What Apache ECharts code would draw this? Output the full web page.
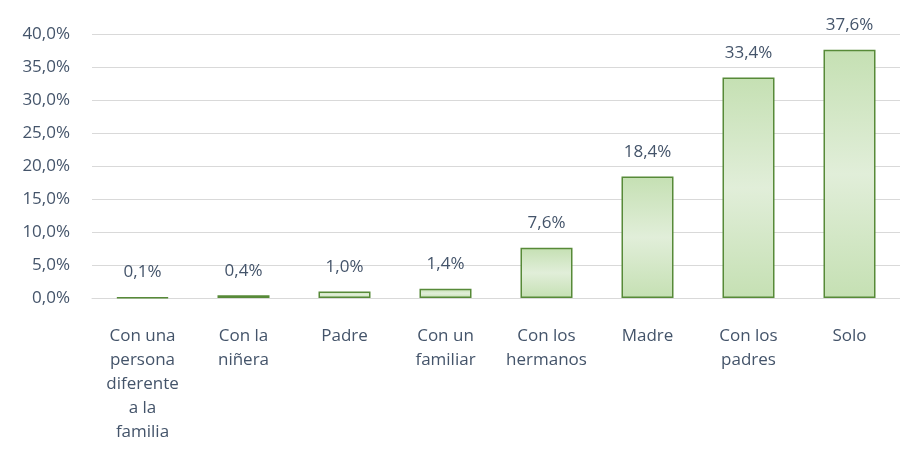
<!DOCTYPE html>
<html>
<head>
<meta charset="utf-8">
<script src="https://cdn.jsdelivr.net/npm/echarts@6/dist/echarts.min.js"></script>
<style>
html, body { margin: 0; padding: 0; background: #fff; }
#chart { width: 900px; height: 457px; }
</style>
</head>
<body>
<div id="chart"></div>
<script>
// datos del grafico
var categorias = ['Con una\npersona\ndiferente\na la\nfamilia', 'Con la\nniñera', 'Padre', 'Con un\nfamiliar', 'Con los\nhermanos', 'Madre', 'Con los\npadres', 'Solo'];
var valores = [0.1, 0.4, 1.0, 1.4, 7.6, 18.4, 33.4, 37.6];
var ticksY = [0, 5, 10, 15, 20, 25, 30, 35, 40];

var colorTexto = '#44546a';
var fuente = '"Open Sans", sans-serif';

function pct(v) {
	return v.toFixed(1).replace('.', ',') + '%';
}

var myChart = echarts.init(document.getElementById('chart'));

var option = {
	animation: false,
	grid: {
		left: 92,
		right: -12,
		top: 34,
		bottom: 159
	},
	xAxis: {
		type: 'category',
		data: categorias,
		axisLine: { show: true, lineStyle: { color: '#d9d9d9', width: 1 } },
		axisTick: { show: false },
		axisLabel: {
			interval: 0,
			color: colorTexto,
			fontFamily: fuente,
			fontSize: 17,
			lineHeight: 24,
			margin: 26,
			align: 'center'
		}
	},
	yAxis: {
		type: 'value',
		min: ticksY[0],
		max: ticksY[ticksY.length - 1],
		interval: 5,
		axisLine: { show: false },
		axisTick: { show: false },
		splitLine: { lineStyle: { color: '#d9d9d9', width: 1 } },
		axisLabel: {
			color: colorTexto,
			fontFamily: fuente,
			fontSize: 17,
			margin: 22,
			formatter: function (v) { return pct(v); }
		}
	},
	series: [{
		type: 'bar',
		data: valores,
		barWidth: 52,
		itemStyle: {
			color: {
				type: 'linear',
				x: 0, y: 0, x2: 0, y2: 1,
				colorStops: [
					{ offset: 0, color: '#c5e0b3' },
					{ offset: 0.5, color: '#e1eed9' },
					{ offset: 1, color: '#c5e0b3' }
				]
			},
			borderColor: '#578a38',
			borderWidth: 1.5
		},
		label: {
			show: true,
			position: 'top',
			distance: 16,
			color: colorTexto,
			fontFamily: fuente,
			fontSize: 17,
			formatter: function (p) { return pct(p.value); }
		}
	}]
};

myChart.setOption(option);
</script>
</body>
</html>
